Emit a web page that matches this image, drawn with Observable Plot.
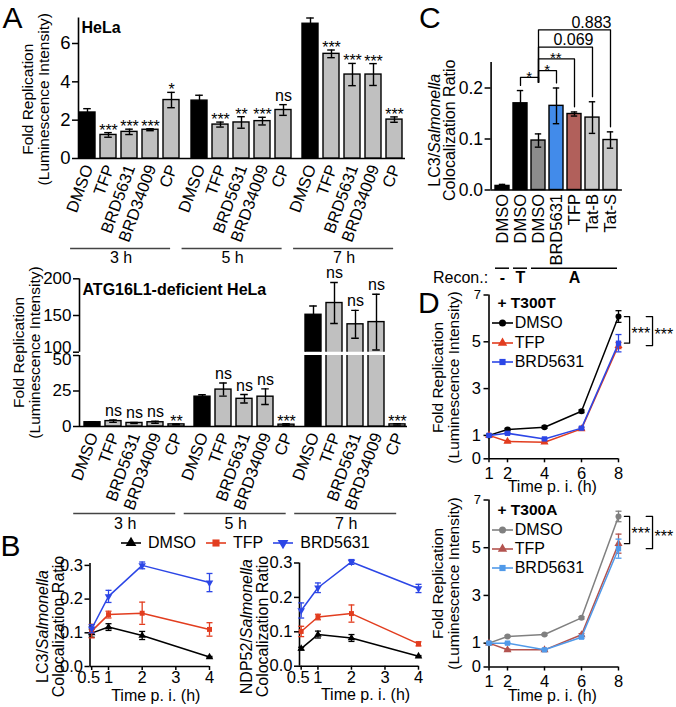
<!DOCTYPE html>
<html>
<head>
<meta charset="utf-8">
<script src="https://cdn.jsdelivr.net/npm/d3@7"></script>
<script src="https://cdn.jsdelivr.net/npm/@observablehq/plot@0.6"></script>
<style>
html, body { margin: 0; padding: 0; background: #fff; }
#fig { position: relative; width: 676px; height: 707px; overflow: hidden; background: #fff;
  font-family: "Liberation Sans", Arial, Helvetica, sans-serif; color: #000; }
.legend { position: absolute; display: flex; font-size: 16px; line-height: 16px; white-space: nowrap; }
.legend .item { display: flex; align-items: center; }
</style>
</head>
<body>
<div id="fig"></div>
<script>
// ================= DATA =================
// Panel A – fold replication (bars)
const A_GROUPS = ["3 h", "5 h", "7 h"];
const A_TREATMENTS = ["DMSO", "TFP", "BRD5631", "BRD34009", "CP"];
const A_HELA_MEAN = [[2.40, 1.23, 1.39, 1.50, 3.05], [3.02, 1.77, 1.88, 1.95, 2.53], [7.03, 5.46, 4.38, 4.38, 2.03]];
const A_HELA_SEM  = [[0.20, 0.12, 0.14, 0.05, 0.40], [0.28, 0.13, 0.30, 0.20, 0.28], [0.30, 0.20, 0.58, 0.57, 0.14]];
const A_HELA_SIG  = [["", "***", "***", "***", "*"], ["", "***", "**", "***", "ns"], ["", "***", "***", "***", "***"]];
const A_KO_MEAN = [[3.0, 3.8, 2.5, 3.0, 1.5], [21.0, 26.0, 19.5, 21.0, 1.3], [151, 167, 138, 141, 1.5]];
const A_KO_SEM  = [[0.4, 0.9, 0.4, 0.7, 0.3], [1.4, 4.6, 3.0, 5.5, 0.6], [12, 28, 19, 38, 0.5]];
const A_KO_SIG  = [["", "ns", "ns", "ns", "**"], ["", "ns", "ns", "ns", "***"], ["", "ns", "ns", "ns", "***"]];

// Panel B – colocalization time courses
const B_TIMES = [0.5, 1, 2, 4];
const B_TIME_TICKS = [0.5, 1, 2, 3, 4];
const B_RATIO_TICKS = [0, 0.1, 0.2, 0.3];
const B_SERIES = ["DMSO", "TFP", "BRD5631"];
const B_LC3_MEAN = [[0.099, 0.117, 0.092, 0.028], [0.105, 0.154, 0.158, 0.110], [0.112, 0.208, 0.300, 0.249]];
const B_LC3_SEM  = [[0.012, 0.010, 0.012, 0.002], [0.020, 0.010, 0.033, 0.020], [0.012, 0.018, 0.010, 0.027]];
const B_NDP_MEAN = [[0.051, 0.092, 0.082, 0.029], [0.101, 0.143, 0.153, 0.065], [0.162, 0.228, 0.303, 0.226]];
const B_NDP_SEM  = [[0.004, 0.010, 0.010, 0.002], [0.015, 0.008, 0.025, 0.006], [0.022, 0.014, 0.007, 0.012]];

// Panel C – LC3/Salmonella colocalization with reconstitution
const C_KEYS   = ["DMSO -", "DMSO T", "DMSO A", "BRD5631 A", "TFP A", "Tat-B A", "Tat-S A"];
const C_LABELS = ["DMSO", "DMSO", "DMSO", "BRD5631", "TFP", "Tat-B", "Tat-S"];
const C_RECON  = ["-", "T", "A", "A", "A", "A", "A"];
const C_MEAN = [0.008, 0.170, 0.097, 0.165, 0.149, 0.142, 0.098];
const C_SEM  = [0.003, 0.025, 0.013, 0.035, 0.004, 0.031, 0.016];
const C_TICKS = [0, 0.1, 0.2];
const C_COMPARISONS = [
  {a: "DMSO T", b: "DMSO A", label: "*", level: 0.221},
  {a: "DMSO A", b: "BRD5631 A", label: "*", level: 0.234},
  {a: "DMSO A", b: "TFP A", label: "**", level: 0.257},
  {a: "DMSO A", b: "Tat-B A", label: "0.069", level: 0.280},
  {a: "DMSO A", b: "Tat-S A", label: "0.883", level: 0.314}
];

// Panel D – fold replication time courses
const D_TIMES = [1, 2, 4, 6, 8];
const D_SERIES = ["DMSO", "TFP", "BRD5631"];
const D_Y_TICKS = [0, 1, 3, 5];
const D_Y_TOP_TICK = [7];
const D_T300T_MEAN = [[1.0, 1.25, 1.35, 2.03, 6.08], [1.0, 0.74, 0.71, 1.28, 4.84], [1.0, 1.09, 0.85, 1.31, 4.94]];
const D_T300T_SEM  = [[0.04, 0.05, 0.05, 0.06, 0.25], [0.03, 0.04, 0.04, 0.05, 0.13], [0.03, 0.04, 0.04, 0.05, 0.37]];
const D_T300A_MEAN = [[1.0, 1.28, 1.36, 2.06, 6.31], [1.0, 0.72, 0.72, 1.35, 5.17], [1.0, 1.00, 0.72, 1.25, 4.96]];
const D_T300A_SEM  = [[0.03, 0.04, 0.04, 0.05, 0.22], [0.03, 0.03, 0.03, 0.05, 0.40], [0.03, 0.03, 0.03, 0.05, 0.40]];
const D_T300T_BRACKETS = [{a: "DMSO", b: "BRD5631", x1: 8.32, x2: 8.6, label: "***"}, {a: "DMSO", b: "TFP", x1: 9.5, x2: 9.84, label: "***"}];
const D_T300A_BRACKETS = [{a: "DMSO", b: "TFP", x1: 8.32, x2: 8.6, label: "***"}, {a: "DMSO", b: "BRD5631", x1: 9.5, x2: 9.84, label: "***"}];

// ================= STYLE =================
const A_FILL = ["#000000", "#c0c0c0", "#c0c0c0", "#c0c0c0", "#c0c0c0"];
const C_FILL = ["#000000", "#000000", "#8c8c8c", "#428bea", "#b1605b", "#c8c8c8", "#c8c8c8"];
const B_COLORS = ["#000000", "#e23d1f", "#2c46e6"];
const D_T_COLORS = ["#000000", "#e23d1f", "#2c46e6"];
const D_A_COLORS = ["#808080", "#b3534f", "#519ae9"];
const CAP = {draw(ctx, size) { const r = Math.sqrt(size / Math.PI); ctx.moveTo(-r, 0); ctx.lineTo(r, 0); }};
const TRI_DOWN = {draw(ctx, size) { const s3 = Math.sqrt(3); const y = -Math.sqrt(size / (s3 * 3)); ctx.moveTo(0, -2 * y); ctx.lineTo(-s3 * y, y); ctx.lineTo(s3 * y, y); ctx.closePath(); }};
const B_SYMBOLS = [d3.symbolTriangle, d3.symbolSquare, TRI_DOWN];
const D_SYMBOLS = [d3.symbolCircle, d3.symbolTriangle, d3.symbolSquare];

const W = 676, H = 707;
const FONT = '"Liberation Sans", Arial, Helvetica, sans-serif';
const fig = document.getElementById("fig");

function place(frame, opts) {
  const [l, t, r, b] = frame;
  const svg = Plot.plot({
    width: W, height: H,
    marginLeft: l, marginTop: t, marginRight: W - r, marginBottom: H - b,
    style: {background: "none", fontFamily: FONT, fontSize: "16px", overflow: "visible", color: "#000"},
    ...opts
  });
  Object.assign(svg.style, {position: "absolute", left: "0px", top: "0px"});
  fig.appendChild(svg);
  return svg;
}
function yLabel(lines, dxs, dy, fontSize) {
  return lines.map((s, i) => Plot.text([s], {text: d => d, frameAnchor: "left", rotate: -90, textAnchor: "middle", lineAnchor: "middle", dx: dxs[i], dy, fontSize}));
}
function letterMark(ch, dx, dy) {
  return Plot.text([ch], {text: d => d, frameAnchor: "top-left", textAnchor: "start", lineAnchor: "top", dx, dy, fontSize: 30});
}
function italicize(svg, word) {
  d3.select(svg).selectAll("text").each(function () {
    const s = this.textContent, k = s.indexOf(word);
    if (k < 0) return;
    const sel = d3.select(this); sel.text(null);
    sel.append("tspan").text(s.slice(0, k));
    sel.append("tspan").attr("font-style", "italic").text(word);
    if (k + word.length < s.length) sel.append("tspan").text(s.slice(k + word.length));
  });
}

// ================= PANEL A =================
const PI_A = 0.22, PO_A = 0.04;
function panelA(cfg) {
  const segs = cfg.segs, nSeg = segs.length, clip = nSeg > 1;
  segs.forEach((seg, k) => {
    const lowest = k === nSeg - 1;
    const shifted = new Map(seg.shift || []);
    const marks = [
      Plot.axisY({ticks: seg.ticks, tickFormat: d => shifted.has(d) ? "" : String(d), tickSize: 6, tickPadding: 2, fontSize: cfg.tickFont, strokeWidth: 1.5, label: null}),
      ...[...shifted].map(([v, dy]) => Plot.text([v], {y: d => d, text: d => String(d), frameAnchor: "left", textAnchor: "end", lineAnchor: "middle", dx: -8, dy, fontSize: cfg.tickFont})),
      Plot.ruleX([0], {strokeWidth: 1.6})
    ];
    if (lowest) marks.push(Plot.ruleY([seg.domain[0]], {strokeWidth: 1.6}));
    if (k === 0) marks.push(Plot.text([cfg.title], {text: d => d, frameAnchor: "top-left", textAnchor: "start", lineAnchor: "middle", dx: 3, dy: cfg.titleDy, fontWeight: "bold", fontSize: 16}));
    if (lowest) marks.push(...yLabel(["Fold Replication", "(Luminescence Intensity)"], cfg.ylabelDx, cfg.ylabelDy, 15.5));
    if (k === 0 && cfg.letter) marks.push(letterMark(cfg.letter, cfg.letterDx, cfg.letterDy));
    place([cfg.axisLeft, seg.top, cfg.axisRight, seg.bottom], {x: {domain: [0, 1], axis: null}, y: {domain: seg.domain}, marks});
  });
  A_GROUPS.forEach((gName, g) => {
    const recs = A_TREATMENTS.map((t, i) => ({t, v: cfg.mean[g][i], e: cfg.sem[g][i], sig: cfg.sig[g][i]}));
    const step = cfg.barStep;
    const left = cfg.center0 + g * cfg.groupStep - step * (1 - PI_A) / 2 - step * PO_A;
    const right = left + step * (A_TREATMENTS.length - PI_A + 2 * PO_A);
    segs.forEach((seg, k) => {
      const lowest = k === nSeg - 1;
      const inSeg = d => d.v + d.e >= seg.domain[0] && d.v + d.e <= seg.domain[1];
      const marks = [
        Plot.barY(recs, {x: "t", y: "v", fill: "t", stroke: "#000", strokeWidth: 1.4, clip}),
        Plot.ruleX(recs, {x: "t", y1: d => d.v - d.e, y2: d => d.v + d.e, strokeWidth: 1.4, clip}),
        Plot.tickY(recs, {x: "t", y: d => d.v + d.e, inset: 4.2, strokeWidth: 1.4, clip}),
        Plot.tickY(recs, {x: "t", y: d => d.v - d.e, inset: 4.2, strokeWidth: 1.4, clip}),
        Plot.text(recs.filter(d => d.sig.startsWith("*") && inSeg(d)), {x: "t", y: d => d.v + d.e, text: "sig", textAnchor: "middle", lineAnchor: "bottom", dy: 3, fontSize: 16}),
        Plot.text(recs.filter(d => d.sig === "ns" && inSeg(d)), {x: "t", y: d => d.v + d.e, text: "sig", textAnchor: "middle", lineAnchor: "bottom", dy: -4, fontSize: 16})
      ];
      if (lowest) marks.push(
        Plot.text(A_TREATMENTS, {x: d => d, text: d => d, frameAnchor: "bottom", rotate: -70, textAnchor: "end", lineAnchor: "middle", dx: 1, dy: 7, fontSize: 16.5}),
        Plot.ruleY([seg.domain[0]], {dx: -8, dy: cfg.lineDy, insetRight: 3, stroke: "#444", strokeWidth: 1.5}),
        Plot.text([gName], {text: d => d, frameAnchor: "bottom", textAnchor: "middle", lineAnchor: "middle", dx: -9, dy: cfg.labelDy, fontSize: 16})
      );
      place([left, seg.top, right, seg.bottom], {
        x: {domain: A_TREATMENTS, paddingInner: PI_A, paddingOuter: PO_A, axis: null},
        y: {domain: seg.domain, axis: null},
        color: {domain: A_TREATMENTS, range: A_FILL},
        marks
      });
    });
  });
}

panelA({
  mean: A_HELA_MEAN, sem: A_HELA_SEM, sig: A_HELA_SIG, title: "HeLa", titleDy: 9.5,
  axisLeft: 78, axisRight: 405, center0: 87.2, groupStep: 111.5, barStep: 21.2, tickFont: 18.5,
  segs: [{top: 17.5, bottom: 158, domain: [0, 7.33], ticks: [0, 2, 4, 6]}],
  ylabelDx: [-50, -34], ylabelDy: 11, lineDy: 90, labelDy: 99,
  letter: "A", letterDx: -76, letterDy: -11.5
});
panelA({
  mean: A_KO_MEAN, sem: A_KO_SEM, sig: A_KO_SIG, title: "ATG16L1-deficient HeLa", titleDy: 10.7,
  axisLeft: 79, axisRight: 407, center0: 90.5, groupStep: 110.5, barStep: 21.6, tickFont: 17,
  segs: [{top: 278.3, bottom: 351.7, domain: [100, 200], ticks: [100, 150, 200], shift: [[100, -5]]},
         {top: 355, bottom: 426, domain: [0, 50], ticks: [0, 25, 50], shift: [[50, 4]]}],
  ylabelDx: [-60, -44], ylabelDy: -38.5, lineDy: 87, labelDy: 97
});

// ================= LINE CHARTS (B, D) =================
function lineChart(cfg) {
  const recs = cfg.series.flatMap((s, si) => cfg.times.map((t, ti) => ({series: s, si, time: t, v: cfg.mean[si][ti], e: cfg.sem[si][ti]})));
  const xShift = new Map(cfg.xShift || []);
  const marks = [
    Plot.axisY({ticks: cfg.yTicks, tickFormat: cfg.yFormat, tickSize: cfg.yTickSize, tickPadding: cfg.yTickPad, fontSize: cfg.tickFont, strokeWidth: 1.5, label: null}),
    Plot.axisX({ticks: cfg.xTicks, tickFormat: d => xShift.has(d) ? "" : String(d), tickSize: cfg.xTickSize, tickPadding: cfg.xTickPad, fontSize: cfg.tickFont, strokeWidth: 1.5, label: null}),
    ...[...xShift].map(([v, dx]) => Plot.text([v], {x: d => d, text: d => String(d), frameAnchor: "bottom", textAnchor: "middle", lineAnchor: "top", dx, dy: cfg.xTickSize + cfg.xTickPad, fontSize: cfg.tickFont})),
    Plot.ruleX([cfg.xDomain[0]], {strokeWidth: 1.6}),
    Plot.ruleY([cfg.yDomain[0]], {strokeWidth: 1.6})
  ];
  cfg.series.forEach((s, si) => {
    const rs = recs.filter(d => d.si === si), c = cfg.colors[si];
    marks.push(
      Plot.line(rs, {x: "time", y: "v", stroke: c, strokeWidth: 1.5}),
      Plot.ruleX(rs, {x: "time", y1: d => d.v - d.e, y2: d => d.v + d.e, stroke: c, strokeWidth: 1.3}),
      Plot.dot(rs, {x: "time", y: d => d.v + d.e, symbol: CAP, r: cfg.capR, stroke: c, fill: "none", strokeWidth: 1.3}),
      Plot.dot(rs, {x: "time", y: d => d.v - d.e, symbol: CAP, r: cfg.capR, stroke: c, fill: "none", strokeWidth: 1.3}),
      Plot.dot(rs, {x: "time", y: "v", symbol: cfg.symbols[si], r: cfg.markerR, fill: c, stroke: "none"})
    );
  });
  if (cfg.brackets) {
    const at = (name) => { const si = cfg.series.indexOf(name); return cfg.mean[si][cfg.times.length - 1]; };
    const pts = cfg.brackets.flatMap((b, j) => [
      {id: j, x: b.x1, y: at(b.a)}, {id: j, x: b.x2, y: at(b.a)},
      {id: j, x: b.x2, y: at(b.b)}, {id: j, x: b.x1, y: at(b.b)}
    ]);
    marks.push(
      Plot.line(pts, {x: "x", y: "y", z: "id", strokeWidth: 1.3}),
      Plot.text(cfg.brackets, {x: "x2", y: b => (at(b.a) + at(b.b)) / 2, text: "label", textAnchor: "start", lineAnchor: "bottom", dx: 2, dy: 9, fontSize: 16})
    );
  }
  marks.push(...(cfg.extra || []));
  return place(cfg.frame, {x: {domain: cfg.xDomain}, y: {domain: cfg.yDomain}, marks});
}
function xTitle(dx, dy) {
  return Plot.text(["Time p. i. (h)"], {text: d => d, frameAnchor: "bottom", textAnchor: "middle", lineAnchor: "middle", dx, dy, fontSize: 16});
}

// ----- Panel B -----
const bCommon = {times: B_TIMES, series: B_SERIES, colors: B_COLORS, symbols: B_SYMBOLS,
  xDomain: [0.45, 4], xTicks: B_TIME_TICKS, xShift: [[0.5, -3]], yTicks: B_RATIO_TICKS, yFormat: ".1f",
  tickFont: 16.5, yTickSize: 5, yTickPad: 2, xTickSize: 4, xTickPad: 1, capR: 3, markerR: 2.8};
const bLeft = lineChart({...bCommon, frame: [89.5, 563, 209, 666], yDomain: [0, 0.3056], mean: B_LC3_MEAN, sem: B_LC3_SEM,
  extra: [
    letterMark("B", -89.5, -29),
    ...yLabel(["LC3/Salmonella", "Colocalization Ratio"], [-47.5, -31.5], 11.5, 16),
    xTitle(6, 29)
  ]});
const bRight = lineChart({...bCommon, frame: [299, 562.5, 418, 665.7], yDomain: [0, 0.3], mean: B_NDP_MEAN, sem: B_NDP_SEM,
  extra: [
    ...yLabel(["NDP52/Salmonella", "Colocalization Ratio"], [-53, -37], 12, 16),
    xTitle(6.5, 29)
  ]});
italicize(bLeft, "Salmonella");
italicize(bRight, "Salmonella");

function makeLegend(names, colors, symbols, {left, top, column, rowH, swW, gapText, gapItem, r}) {
  const div = d3.select(fig).append("div").attr("class", "legend")
    .style("left", left + "px").style("top", top + "px").style("flex-direction", column ? "column" : "row");
  names.forEach((n, i) => {
    const it = div.append("div").attr("class", "item").style("height", rowH + "px");
    const sv = it.append("svg").attr("width", swW).attr("height", 12).style("overflow", "visible");
    sv.append("line").attr("x1", 0).attr("x2", swW).attr("y1", 6).attr("y2", 6).attr("stroke", colors[i]).attr("stroke-width", 1.6);
    sv.append("path").attr("d", d3.symbol(symbols[i], r * r * Math.PI)()).attr("transform", `translate(${swW / 2},6)`).attr("fill", colors[i]);
    it.append("span").style("margin-left", gapText + "px").style("margin-right", column ? "0px" : gapItem + "px").text(n);
  });
}
makeLegend(B_SERIES, B_COLORS, B_SYMBOLS, {left: 121, top: 535, column: false, rowH: 16, swW: 20, gapText: 7, gapItem: 10, r: 4});

// ================= PANEL C =================
const C_PI = 0.2, C_PO = 0.1;
(function panelC() {
  const frame = [490.6, 62, 621.9, 189.5];
  const recs = C_KEYS.map((k, i) => ({key: k, label: C_LABELS[i], recon: C_RECON[i], v: C_MEAN[i], e: C_SEM[i]}));
  const step = (frame[2] - frame[0]) / (C_KEYS.length - C_PI + 2 * C_PO);
  const base = place(frame, {
    x: {domain: [0, 1], axis: null}, y: {domain: [0, 0.25]},
    marks: [
      Plot.axisY({ticks: C_TICKS, tickFormat: ".1f", tickSize: 6, tickPadding: 2, fontSize: 17.5, strokeWidth: 1.5, label: null}),
      Plot.ruleX([0], {strokeWidth: 1.6}), Plot.ruleY([0], {strokeWidth: 1.6}),
      ...yLabel(["LC3/Salmonella", "Colocalization Ratio"], [-56.6, -41.6], 4, 16),
      letterMark("C", -72, -56),
      Plot.text(["Recon.:"], {text: d => d, frameAnchor: "bottom-left", textAnchor: "end", lineAnchor: "middle", dx: -3, dy: 88, fontSize: 16})
    ]
  });
  italicize(base, "Salmonella");
  // reconstitution groups (contiguous runs)
  const groups = [];
  recs.forEach(d => { const last = groups[groups.length - 1]; if (last && last.label === d.recon) last.keys.push(d.key); else groups.push({label: d.recon, keys: [d.key]}); });
  groups.forEach(g => { g.first = g.keys[0]; g.last = g.keys[g.keys.length - 1]; g.mid = g.keys[Math.floor((g.keys.length - 1) / 2)]; });
  // comparison brackets
  const REF = "DMSO A";
  const top = k => { const r = recs.find(d => d.key === k); return r.v + r.e; };
  const stemBottom = d3.min(C_COMPARISONS, c => c.level) - 0.01;
  const legEnd = k => k === REF ? stemBottom : top(k) + 0.01;
  const pts = C_COMPARISONS.flatMap((c, j) => [
    {id: j, key: c.a, y: legEnd(c.a)}, {id: j, key: c.a, y: c.level},
    {id: j, key: c.b, y: c.level}, {id: j, key: c.b, y: legEnd(c.b)}
  ]);
  const labelMarks = C_COMPARISONS.map(c => {
    const star = c.label.startsWith("*");
    const span = C_KEYS.indexOf(c.b) - C_KEYS.indexOf(c.a);
    return Plot.text([c], {x: "b", y: "level", text: "label", textAnchor: star ? "middle" : "end",
      lineAnchor: "bottom", dx: star ? -span * step / 2 : 1, dy: star ? 4.5 : -2, fontSize: star ? 15 : 16});
  });
  place(frame, {
    x: {domain: C_KEYS, paddingInner: C_PI, paddingOuter: C_PO, axis: null},
    y: {domain: [0, 0.25], axis: null},
    color: {domain: C_KEYS, range: C_FILL},
    marks: [
      Plot.barY(recs, {x: "key", y: "v", fill: "key", stroke: "#000", strokeWidth: 1.4}),
      Plot.ruleX(recs, {x: "key", y1: d => d.v - d.e, y2: d => d.v + d.e, strokeWidth: 1.4}),
      Plot.tickY(recs, {x: "key", y: d => d.v + d.e, inset: 3.8, strokeWidth: 1.4}),
      Plot.tickY(recs, {x: "key", y: d => d.v - d.e, inset: 3.8, strokeWidth: 1.4}),
      Plot.text(recs, {x: "key", text: "label", frameAnchor: "bottom", rotate: -90, textAnchor: "end", lineAnchor: "middle", dy: 4, fontSize: 16.5}),
      Plot.ruleY(groups, {y: () => 0, x1: "first", x2: "last", dy: 78.2, strokeWidth: 1.5}),
      Plot.text(groups, {x: "mid", text: "label", frameAnchor: "bottom", textAnchor: "middle", lineAnchor: "middle", dy: 88, fontWeight: "bold", fontSize: 16}),
      Plot.line(pts, {x: "key", y: "y", z: "id", strokeWidth: 1.3}),
      ...labelMarks
    ]
  });
})();

// ================= PANEL D =================
const dCommon = {times: D_TIMES, series: D_SERIES, symbols: D_SYMBOLS, xDomain: [1, 8], xTicks: D_TIMES,
  yDomain: [0, 7], yTicks: D_Y_TICKS, yFormat: d => String(d), tickFont: 16.5, yTickSize: 5, yTickPad: 3, xTickSize: 4, xTickPad: 4, capR: 3, markerR: 3};
function sevenAxis() { return Plot.axisY({ticks: D_Y_TOP_TICK, tickFormat: d => String(d), tickSize: 5, tickPadding: 3, fontSize: 13, strokeWidth: 1.5, label: null}); }
function dTitle(s, dy) { return Plot.text([s], {text: d => d, frameAnchor: "top-left", textAnchor: "start", lineAnchor: "middle", dx: 8.5, dy, fontWeight: "bold", fontSize: 15.5}); }
lineChart({...dCommon, frame: [488.5, 294.5, 618, 458.3], colors: D_T_COLORS, mean: D_T300T_MEAN, sem: D_T300T_SEM, brackets: D_T300T_BRACKETS,
  extra: [
    sevenAxis(),
    letterMark("D", -71, -3.5),
    dTitle("+ T300T", 8.5),
    ...yLabel(["Fold Replication", "(Luminescence Intensity)"], [-51, -35], 0.6, 15.5),
    xTitle(-1.5, 28.5)
  ]});
lineChart({...dCommon, frame: [488.5, 499.5, 618, 666.5], colors: D_A_COLORS, mean: D_T300A_MEAN, sem: D_T300A_SEM, brackets: D_T300A_BRACKETS,
  extra: [
    sevenAxis(),
    dTitle("+ T300A", 10.5),
    ...yLabel(["Fold Replication", "(Luminescence Intensity)"], [-51, -35], 0, 15.5),
    xTitle(-1.5, 29)
  ]});
makeLegend(D_SERIES, D_T_COLORS, D_SYMBOLS, {left: 491.7, top: 313.2, column: true, rowH: 19.6, swW: 21, gapText: 2, gapItem: 0, r: 3.5});
makeLegend(D_SERIES, D_A_COLORS, D_SYMBOLS, {left: 491.7, top: 520.4, column: true, rowH: 19.2, swW: 21, gapText: 2, gapItem: 0, r: 3.5});
</script>
</body>
</html>
